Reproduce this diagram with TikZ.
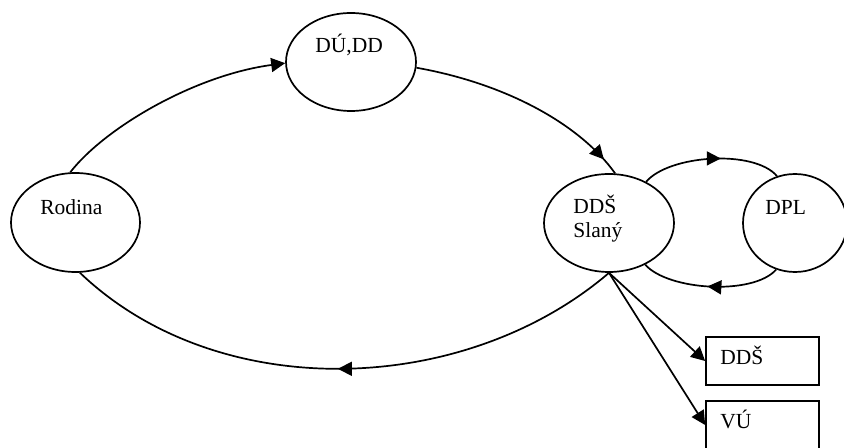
\documentclass[tikz,border=0pt]{standalone}
\usepackage{fontspec}
\setmainfont{Liberation Serif}
\usetikzlibrary{arrows.meta,decorations.markings,shapes.geometric}

\tikzset{
  >={Triangle[length=7pt,width=7pt]},
  bubble/.style={draw, ellipse, inner sep=0pt, line width=0.85pt},
  slot/.style={draw, rectangle, minimum width=56.5pt, minimum height=24pt,
               inner sep=0pt, line width=0.85pt},
  tag/.style={anchor=base west, inner sep=0pt,
              font=\fontsize{10.75pt}{12pt}\selectfont},
  flow/.style={line width=0.85pt},
  tipat/.style={postaction={decorate},
                decoration={markings, mark=at position #1 with {\arrow{>}}}}
}

\begin{document}
\begin{tikzpicture}[x=0.5pt, y=-0.5pt]
  \fill[white] (0,0) rectangle (844,448);
  \useasboundingbox (0,0) rectangle (844,448);

  % ovals
  \node[bubble, minimum width=64.5pt, minimum height=49.5pt] (rod) at (75.5,222.5) {};
  \node[bubble, minimum width=65pt, minimum height=49pt] (dud) at (351,62) {};
  \node[bubble, minimum width=65pt, minimum height=49pt] (dds) at (609,223) {};
  \node[bubble, minimum width=52pt, minimum height=49pt] (dpl) at (795,223) {};

  % boxes
  \node[slot] (box1) at (762.5,361) {};
  \node[slot] (box2) at (762.5,425) {};

  % labels
  \node[tag] (t-rod) at (40,215) {Rodina};
  \node[tag] (t-dud) at (315,53) {DÚ,DD};
  \node[tag] (t-dds) at (573,214) {DDŠ};
  \node[tag] (t-sla) at (573,238) {Slaný};
  \node[tag] (t-dpl) at (765,215) {DPL};
  \node[tag] (t-box1) at (720,364) {DDŠ};
  \node[tag] (t-box2) at (720,428) {VÚ};

  % big loop
  \draw[flow, ->] (rod.96) .. controls +(35,-45) and +(-90,12) .. (dud.181);
  \draw[flow, tipat=-9pt] (dud.355.5) .. controls +(90,16) and +(-35,-49) .. (dds.83);
  \draw[flow, tipat=0.51] (dds.270) .. controls +(-145,124) and +(138,132) .. (rod.275);

  % small loop
  \draw[flow, tipat=0.57] (dds.48.7) .. controls +(23,-27) and +(-23,-27) .. (dpl.111.4);
  \draw[flow, tipat=0.52] (dpl.248.6) .. controls +(-23,26) and +(23,26) .. (dds.311.3);

  % branches
  \draw[flow, ->] (dds.270) -- (box1.west);
  \draw[flow, ->] (dds.270) -- (box2.west);
\end{tikzpicture}
\end{document}
